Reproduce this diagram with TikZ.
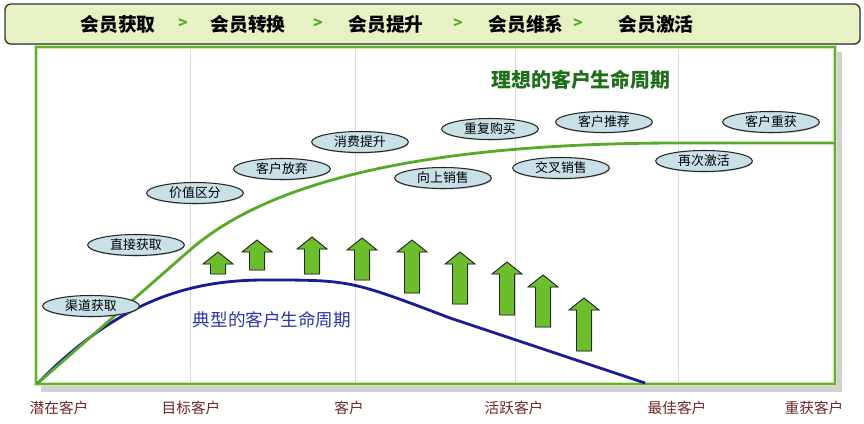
\documentclass[tikz,border=0pt]{standalone}
\usepackage{fontspec}
\setmainfont{Noto Sans CJK SC}
\usetikzlibrary{shapes.geometric, shadows, positioning}
\definecolor{bannerfill}{RGB}{230,242,196}
\definecolor{framegreen}{RGB}{98,176,50}
\definecolor{palegreen}{RGB}{205,235,175}
\definecolor{idealgreen}{RGB}{86,170,40}
\definecolor{idealtext}{RGB}{30,110,30}
\definecolor{typicalblue}{RGB}{26,26,150}
\definecolor{typicaltext}{RGB}{50,50,170}
\definecolor{ovalfill}{RGB}{200,224,230}
\definecolor{arrowgreen}{RGB}{108,190,45}
\definecolor{labelred}{RGB}{110,40,40}

\begin{document}
\begin{tikzpicture}[
    x=0.03cm, y=-0.03cm,
    bannerbox/.style={
        draw=black!80, line width=1.1pt, rounded corners=5pt,
        fill=bannerfill, minimum width=25.65cm, minimum height=1.2cm,
        drop shadow={shadow xshift=0.6pt, shadow yshift=-0.8pt, fill=black!40}
    },
    stage/.style={font=\bfseries\fontsize{16}{16}\selectfont, text=black, inner sep=0pt},
    chevron/.style={font=\bfseries\fontsize{13}{13}\selectfont, text=idealgreen, inner sep=0pt},
    oval/.style={
        ellipse, draw=black!85, line width=0.9pt, fill=ovalfill,
        minimum width=2.9cm, minimum height=0.63cm, inner sep=0pt,
        font=\fontsize{11}{11}\selectfont,
        drop shadow={shadow xshift=0.4pt, shadow yshift=-0.8pt, fill=black!50}
    },
    stagelabel/.style={font=\fontsize{12.5}{12.5}\selectfont, text=labelred, inner sep=0pt},
    growarrow/.style={
        draw=black!85, line width=0.8pt, fill=arrowgreen, line join=miter,
        drop shadow={shadow xshift=0.8pt, shadow yshift=-0.6pt, fill=black!45}
    },
    grid line/.style={draw=black!15, line width=0.6pt},
    ideal/.style={draw=idealgreen, line width=2.4pt},
    typical/.style={draw=typicalblue, line width=2.4pt}
]
\useasboundingbox (0,0) rectangle (864,424);

% BANNER
\node[bannerbox] (banner) at (432.5,24) {};
\node[stage] (acquire)  at (118,24) {会员获取};
\node[chevron] (chev1)  at (183,24) {>};
\node[stage] (convert)  at (248,24) {会员转换};
\node[chevron] (chev2)  at (318,24) {>};
\node[stage] (upgrade)  at (386,24) {会员提升};
\node[chevron] (chev3)  at (458,24) {>};
\node[stage] (retain)   at (526,24) {会员维系};
\node[chevron] (chev4)  at (578,24) {>};
\node[stage] (activate) at (656,24) {会员激活};

% CHART FRAME
\fill[black!18] (41,52) rectangle (842,392);
\draw[palegreen, line width=3pt, fill=white] (36,47) rectangle (835,384);
\draw[framegreen, line width=1.2pt] (36,47) rectangle (835,384);
\foreach \gx in {190,355,515,678}
    \draw[grid line] (\gx,49) -- (\gx,382);

\coordinate (origin) at (38,383);
\coordinate (bend) at (190,250);
\coordinate (plateau) at (834,143);
\coordinate (peak) at (265,280);
\coordinate (dropout) at (645,383);

% TYPICAL LIFECYCLE
\draw[typical] (origin) .. controls (120,300) and (190,280) .. (peak)
    .. controls (350,280) .. (450,318) -- (dropout);

% IDEAL LIFECYCLE
\draw[ideal] (origin) -- (bend) .. controls (260,189) and (400,143) .. (680,143) -- (plateau);

% GROWTH ARROWS
\foreach \ax/\at/\ab in {218/252/274, 257/240/270, 312/237/274, 362/238/280,
                         412/240/293, 460/252/304, 507/262/315, 543/275/327, 584/298/351}
    \draw[growarrow] (\ax-7.5,\ab) -- (\ax-7.5,\at+12) -- (\ax-15,\at+12) -- (\ax,\at)
        -- (\ax+15,\at+12) -- (\ax+7.5,\at+12) -- (\ax+7.5,\ab) -- cycle;

% CURVE LABELS
\node[font=\bfseries\fontsize{17}{17}\selectfont, text=idealtext] (idealname) at (581,80) {理想的客户生命周期};
\node[font=\fontsize{15}{15}\selectfont, text=typicaltext] (typicalname) at (272,320) {典型的客户生命周期};

% ACTIVITY OVALS
\node[oval] (channel)   at (91,306)  {渠道获取};
\node[oval] (direct)    at (136,245) {直接获取};
\node[oval] (segment)   at (195,193) {价值区分};
\node[oval] (abandon)   at (282,169) {客户放弃};
\node[oval] (spend)     at (360,142) {消费提升};
\node[oval] (upsell)    at (443,178) {向上销售};
\node[oval] (repeat)    at (490,129) {重复购买};
\node[oval] (referral)  at (604,122) {客户推荐};
\node[oval] (crosssell) at (561,168) {交叉销售};
\node[oval] (reactive)  at (704,161) {再次激活};
\node[oval] (regain)    at (771,122) {客户重获};

% STAGE LABELS
\node[stagelabel] (potential) at (59,408)  {潜在客户};
\node[stagelabel] (target)    at (191,408) {目标客户};
\node[stagelabel] (customer)  at (349,408) {客户};
\node[stagelabel] (active)    at (514,408) {活跃客户};
\node[stagelabel] (best)      at (677,408) {最佳客户};
\node[stagelabel] (regained)  at (814,408) {重获客户};

\end{tikzpicture}
\end{document}
